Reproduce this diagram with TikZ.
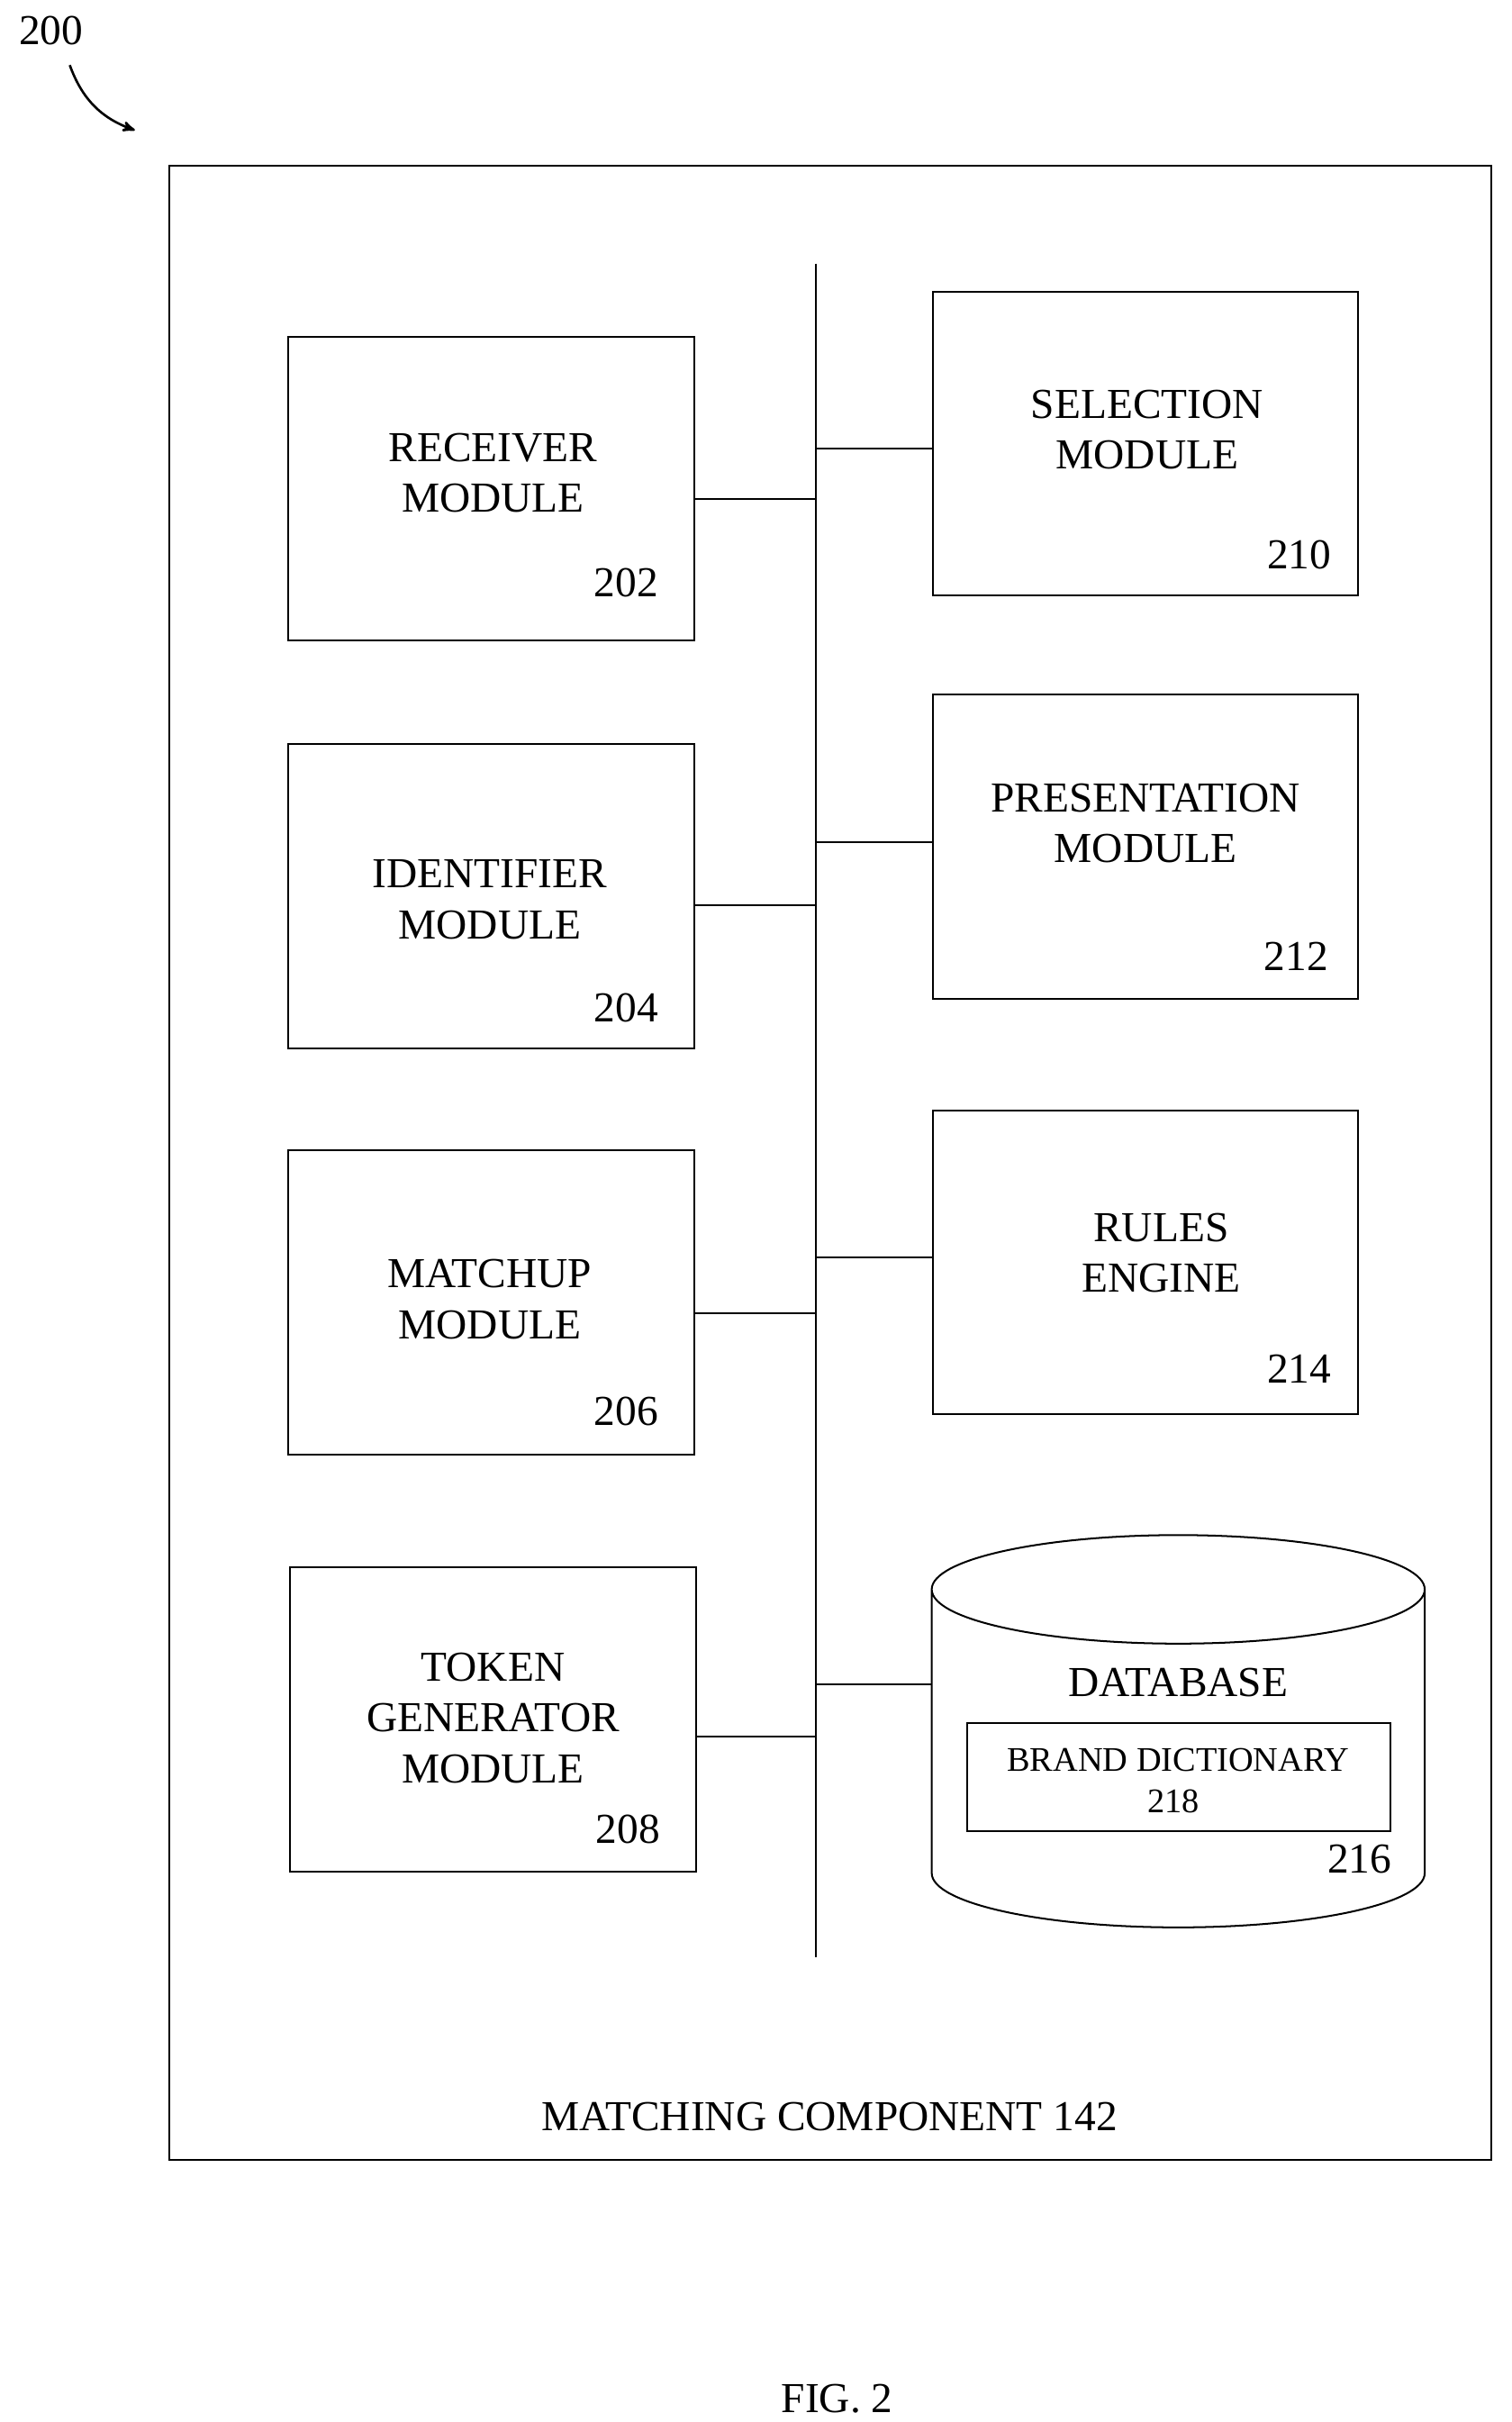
\documentclass[tikz,border=0pt]{standalone}
\usepackage{fontspec}
\setmainfont{Liberation Serif}
\usetikzlibrary{arrows,positioning}
\begin{document}
\begin{tikzpicture}[x=0.03cm,y=-0.03cm,>=stealth',line width=1pt,
  every node/.style={font=\fontsize{23.5}{28}\selectfont},
  box/.style={draw,rectangle,align=center,minimum width=7.86cm,minimum height=5.88cm},
  rbox/.style={draw,rectangle,align=center,minimum width=8.22cm,minimum height=5.88cm},
  num/.style={anchor=center}]
  \useasboundingbox (0,0) rectangle (975,1562);
  \node[draw,rectangle,minimum width=25.59cm,minimum height=38.58cm] (mc) at (535.5,750) {};
  \node (mclbl) at (535,1365) {MATCHING COMPONENT 142};
  \node (lbl200) at (33,20) {200};
  \coordinate (arrs) at (45,42);
  \coordinate (arre) at (87,84);
  \draw[->,line width=1.3pt] (arrs) to[bend right=25] (arre);
  % bus
  \coordinate (bustop) at (526,170);
  \coordinate (busbot) at (526,1262);
  \draw (bustop) -- (busbot);
  % left column
  \node[box] (rcv) at (317,315) {};
  \node (rcvlbl) at (318,305) [align=center] {RECEIVER\\MODULE};
  \node[box] (idf) at (317,578) {};
  \node (idflbl) at (316,580) [align=center] {IDENTIFIER\\MODULE};
  \node[box] (mtc) at (317,840) {};
  \node (mtclbl) at (316,838) [align=center] {MATCHUP\\MODULE};
  \node[box] (tok) at (318,1109) {};
  \node (toklbl) at (318,1108) [align=center] {TOKEN\\GENERATOR\\MODULE};
  \node[num] (n202) at (404,376) {202};
  \node[num] (n204) at (404,650) {204};
  \node[num] (n206) at (404,910) {206};
  \node[num] (n208) at (405,1180) {208};
  % right column
  \node[rbox] (sel) at (739,286) {};
  \node (sellbl) at (740,277) [align=center] {SELECTION\\MODULE};
  \node[rbox] (prs) at (739,546) {};
  \node (prslbl) at (739,531) [align=center] {PRESENTATION\\MODULE};
  \node[rbox] (rul) at (739,814) {};
  \node (rullbl) at (749,808) [align=center] {RULES\\ENGINE};
  \node[num] (n210) at (838,358) {210};
  \node[num] (n212) at (836,617) {212};
  \node[num] (n214) at (838,883) {214};
  % database
  \draw (601,1025) -- (601,1208) arc[start angle=180,end angle=360,x radius=159,y radius=-35]
        -- (919,1025) arc[start angle=0,end angle=180,x radius=159,y radius=-35]
        arc[start angle=180,end angle=360,x radius=159,y radius=-35];
  \coordinate (db) at (601,1086);
  \node (dblbl) at (760,1085) {DATABASE};
  \node[draw,rectangle,minimum width=8.19cm,minimum height=2.1cm] (bd) at (760.5,1146) {};
  \node[font=\fontsize{19}{22}\selectfont] (bdlbl) at (760,1135) {BRAND DICTIONARY};
  \node[font=\fontsize{19}{22}\selectfont] (n218) at (757,1162) {218};
  \node[num] (n216) at (877,1199) {216};
  % connectors
  \draw (rcv.east |- 0,322) -- (bustop |- 0,322);
  \draw (idf.east |- 0,584) -- (bustop |- 0,584);
  \draw (mtc.east |- 0,847) -- (bustop |- 0,847);
  \draw (tok.east |- 0,1120) -- (bustop |- 0,1120);
  \draw (sel.west |- 0,289) -- (bustop |- 0,289);
  \draw (prs.west |- 0,543) -- (bustop |- 0,543);
  \draw (rul.west |- 0,811) -- (bustop |- 0,811);
  \draw (db) -- (bustop |- db);
  \node (fig) at (540,1547) {FIG. 2};
\end{tikzpicture}
\end{document}
